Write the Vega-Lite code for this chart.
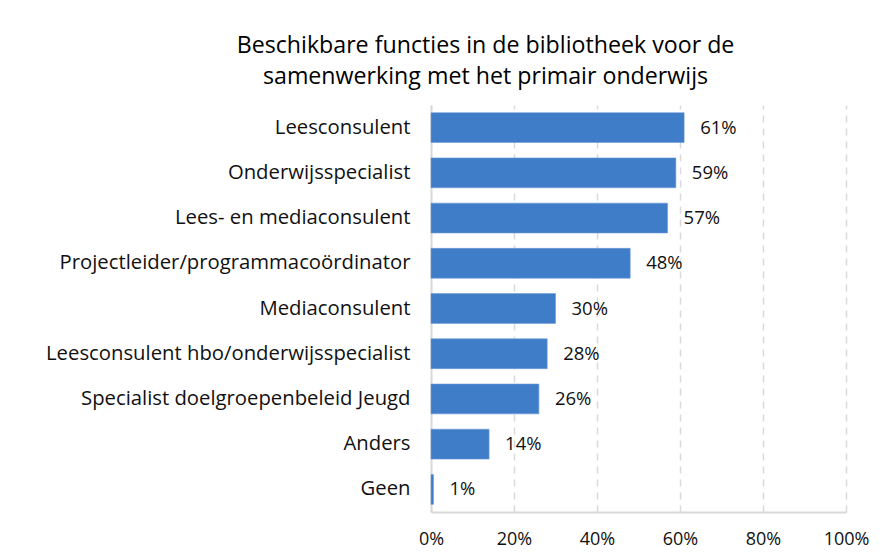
{
  "$schema": "https://vega.github.io/schema/vega-lite/v6.json",
  "width": 415,
  "height": 407,
  "autosize": {"type": "none"},
  "padding": {"left": 431, "top": 105, "right": 44, "bottom": 43},
  "background": "white",
  "title": {
    "text": ["Beschikbare functies in de bibliotheek voor de", "samenwerking met het primair onderwijs"],
    "font": "Open Sans",
    "fontSize": 23.2,
    "fontWeight": "normal",
    "color": "#000000",
    "anchor": "middle",
    "frame": "group",
    "dx": -153,
    "lineHeight": 31,
    "offset": 16
  },
  "config": {
    "view": {"stroke": null},
    "font": "Open Sans"
  },
  "data": {
    "values": [
      {"functie": "Leesconsulent", "pct": 61, "label": "61%"},
      {"functie": "Onderwijsspecialist", "pct": 59, "label": "59%"},
      {"functie": "Lees- en mediaconsulent", "pct": 57, "label": "57%"},
      {"functie": "Projectleider/programmacoördinator", "pct": 48, "label": "48%"},
      {"functie": "Mediaconsulent", "pct": 30, "label": "30%"},
      {"functie": "Leesconsulent hbo/onderwijsspecialist ", "pct": 28, "label": "28%"},
      {"functie": "Specialist doelgroepenbeleid Jeugd", "pct": 26, "label": "26%"},
      {"functie": "Anders", "pct": 14, "label": "14%"},
      {"functie": "Geen", "pct": 0.6, "label": "1%"}
    ]
  },
  "encoding": {
    "y": {
      "field": "functie",
      "type": "nominal",
      "sort": null,
      "scale": {"paddingInner": 0.34, "paddingOuter": 0.17},
      "axis": {
        "title": null,
        "ticks": false,
        "domain": true,
        "domainColor": "#d9d9d9",
        "domainWidth": 2,
        "labelFont": "Open Sans",
        "labelFontSize": 20.3,
        "labelColor": "#111111",
        "labelPadding": 21,
        "labelLimit": 500
      }
    }
  },
  "layer": [
    {
      "mark": {"type": "bar", "color": "#3f7dc8", "stroke": "#6b9ad6", "strokeWidth": 0.6},
      "encoding": {
        "x": {
          "field": "pct",
          "type": "quantitative",
          "scale": {"domain": [0, 100], "nice": false},
          "axis": {
            "title": null,
            "values": [0, 20, 40, 60, 80, 100],
            "labelExpr": "datum.value + '%'",
            "labelFlush": false,
            "ticks": false,
            "domain": true,
            "domainColor": "#d9d9d9",
            "domainWidth": 2,
            "grid": true,
            "gridColor": "#d9d9d9",
            "gridDash": [7, 6],
            "gridWidth": 1.5,
            "labelFont": "Open Sans",
            "labelFontSize": 18,
            "labelColor": "#111111",
            "labelPadding": 18
          }
        }
      }
    },
    {
      "mark": {"type": "text", "align": "left", "baseline": "middle", "dx": 16, "fontSize": 18.5, "font": "Open Sans", "color": "#111111"},
      "encoding": {
        "x": {"field": "pct", "type": "quantitative"},
        "text": {"field": "label", "type": "nominal"}
      }
    }
  ]
}
